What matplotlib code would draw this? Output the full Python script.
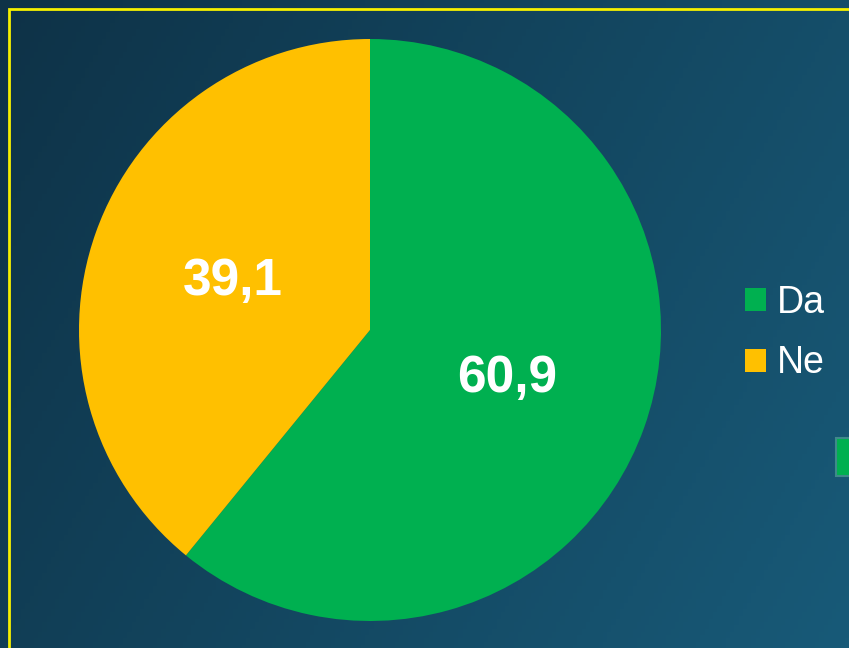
import numpy as np
import matplotlib.pyplot as plt
from matplotlib.patches import Rectangle
from matplotlib.colors import LinearSegmentedColormap

labels = ["Da", "Ne"]
values = [60.9, 39.1]
colors = ["#00b050", "#ffc000"]

plt.rcParams['font.family'] = ['Liberation Sans', 'DejaVu Sans']

W, H = 849, 648
fig = plt.figure(figsize=(W / 100, H / 100), dpi=100)

# background gradient
bg = fig.add_axes([0, 0, 1, 1])
xx, yy = np.meshgrid(np.linspace(0, 1, 200), np.linspace(0, 1, 200))
grad = 0.7 * xx + 0.3 * yy
cmap = LinearSegmentedColormap.from_list("bg", ["#0e3247", "#185a78"])
bg.imshow(grad, cmap=cmap, extent=[0, 1, 0, 1], aspect="auto", origin="upper")
bg.set_xlim(0, 1)
bg.set_ylim(0, 1)
bg.axis("off")

# yellow frame
fig.patches.append(Rectangle((9 / W, -0.1), 1.2, 1 - 9 / H + 0.1, transform=fig.transFigure,
                             fill=False, edgecolor="#f5f000", linewidth=2))
# small green box at the right edge
fig.patches.append(Rectangle((836 / W, 1 - 476 / H), 0.1, 38 / H, transform=fig.transFigure,
                             facecolor="#00b050", edgecolor="#3f8a8a", linewidth=1.5))

cx, cy, r = 370, 330, 291
ax = fig.add_axes([(cx - r) / W, (H - cy - r) / H, 2 * r / W, 2 * r / H])
wedges, _, autotexts = ax.pie(values, colors=colors, startangle=90, counterclock=False,
                              radius=1, pctdistance=0.5,
                              autopct=lambda p: f"{p:.1f}".replace(".", ","),
                              textprops=dict(color="white", fontsize=37, fontweight="bold"))
ax.set_xlim(-1, 1)
ax.set_ylim(-1, 1)
ax.set_aspect("equal")

leg = fig.legend(wedges, labels, loc="center left", bbox_to_anchor=(745 / W, 1 - 333 / H),
                 frameon=False, fontsize=27, handlelength=0.56, handleheight=0.56,
                 handletextpad=0.3, labelspacing=0.66, borderpad=0, borderaxespad=0,
                 labelcolor="white")

fig.savefig("out.png", dpi=100)
